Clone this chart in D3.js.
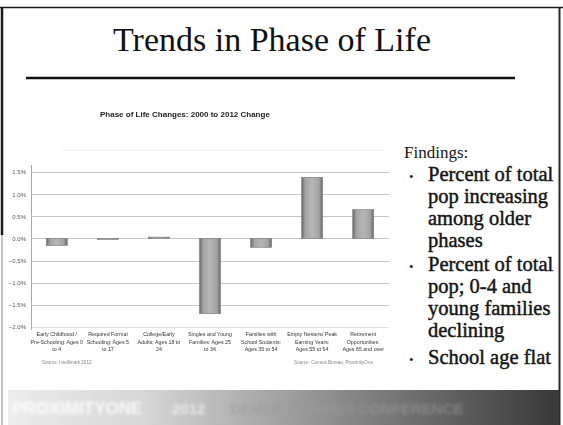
<!DOCTYPE html>
<html><head><meta charset="utf-8">
<script src="https://cdn.jsdelivr.net/npm/d3@7"></script>
<style>body{margin:0;background:#fff}svg{display:block}</style>
</head><body>
<script>
// ---------- data ----------
const categories = ["Early Childhood", "Required Formal Schooling", "College/Early Adults", "Singles and Young Families", "Families with School Students", "Empty Nesters/Peak Earning", "Retirement Opportunities"];
const categoryLabels = [
  ["Early Childhood /", "Pre-Schooling: Ages 0", "to 4"],
  ["Required Formal", "Schooling: Ages 5", "to 17"],
  ["College/Early", "Adults: Ages 18 to", "24"],
  ["Singles and Young", "Families: Ages 25", "to 34"],
  ["Families with", "School Students:", "Ages 35 to 54"],
  ["Empty Nesters/ Peak", "Earning Years:", "Ages 55 to 64"],
  ["Retirement", "Opportunities:", "Ages 65 and over"]
];
const values = [-0.16, 0.0, 0.03, -1.70, -0.20, 1.38, 0.65];
const yTicks = [1.5, 1.0, 0.5, 0.0, -0.5, -1.0, -1.5, -2.0];
const slideTitle = "Trends in Phase of Life";
const chartTitle = "Phase of Life Changes: 2000 to 2012 Change";
const findingsHead = "Findings:";
const findings = [
  ["Percent of total", "pop increasing", "among older", "phases"],
  ["Percent of total", "pop; 0-4 and", "young families", "declining"],
  ["School age flat"]
];

// ---------- drawing ----------
const W = 563, H = 425;
const svg = d3.select("body").append("svg").attr("width", W).attr("height", H);
const defs = svg.append("defs");

const bg = defs.append("linearGradient").attr("id", "barg").attr("x1", "0").attr("x2", "1").attr("y1", "0").attr("y2", "0");
[["0%", "#6a6a6a"], ["18%", "#a4a4a4"], ["50%", "#b6b6b6"], ["82%", "#a4a4a4"], ["100%", "#6a6a6a"]]
  .forEach(([o, c]) => bg.append("stop").attr("offset", o).attr("stop-color", c));

const fg = defs.append("linearGradient").attr("id", "footg").attr("x1", "0").attr("x2", "1").attr("y1", "0").attr("y2", "0");
[["0%", "#ececec"], ["25%", "#d6d6d6"], ["45%", "#ababab"], ["70%", "#767676"], ["100%", "#383838"]]
  .forEach(([o, c]) => fg.append("stop").attr("offset", o).attr("stop-color", c));

defs.append("filter").attr("id", "blur").append("feGaussianBlur").attr("stdDeviation", 0.35);
defs.append("filter").attr("id", "blur2").append("feGaussianBlur").attr("stdDeviation", 1.4);

svg.append("rect").attr("width", W).attr("height", H).attr("fill", "#fff");

// slide frame
svg.append("line").attr("x1", 0).attr("x2", W).attr("y1", 7.5).attr("y2", 7.5).attr("stroke", "#1a1a1a").attr("stroke-width", 1.6);
svg.append("line").attr("x1", 2).attr("x2", 2).attr("y1", 7).attr("y2", 235).attr("stroke", "#1a1a1a").attr("stroke-width", 2.5);
svg.append("line").attr("x1", 2).attr("x2", 2).attr("y1", 235).attr("y2", H).attr("stroke", "#8a8a8a").attr("stroke-width", 1);
svg.append("line").attr("x1", 559.5).attr("x2", 559.5).attr("y1", 7).attr("y2", H).attr("stroke", "#2a2a2a").attr("stroke-width", 2);

// slide title & rule
svg.append("text").attr("x", 272).attr("y", 51).attr("text-anchor", "middle")
  .attr("font-family", "Liberation Serif, serif").attr("font-size", 34).attr("fill", "#111").text(slideTitle);
svg.append("line").attr("x1", 26).attr("x2", 515).attr("y1", 78).attr("y2", 78).attr("stroke", "#111").attr("stroke-width", 2.5);

// chart
const x = d3.scaleBand().domain(categories).range([31, 389]).paddingInner(0.59).paddingOuter(0.3);
const y = d3.scaleLinear().domain([-2, 1.5]).range([327, 172]);

svg.append("line").attr("x1", 62).attr("x2", 385).attr("y1", 150.5).attr("y2", 150.5).attr("stroke", "#f0f0f0");
svg.append("text").attr("x", 100).attr("y", 117).attr("font-family", "Liberation Sans, Arial, sans-serif")
  .attr("font-weight", "bold").attr("font-size", 8).attr("fill", "#222").attr("filter", "url(#blur)").text(chartTitle);

const grid = svg.append("g");
grid.selectAll("line").data(yTicks).join("line")
  .attr("x1", 31).attr("x2", 389).attr("y1", d => Math.round(y(d)) + 0.5).attr("y2", d => Math.round(y(d)) + 0.5)
  .attr("stroke", d => d === -2 ? "#e2e2e2" : "#c6c6c6").attr("stroke-width", 1);

const yAxis = svg.append("g").attr("transform", "translate(31,0)")
  .call(d3.axisLeft(y).tickValues(yTicks).tickSize(0).tickPadding(5).tickFormat(d => d3.format(".1f")(d) + "%"));
yAxis.select(".domain").attr("stroke", "#a8a8a8").attr("d", "M0.5,165V330");
yAxis.selectAll("text").attr("font-family", "Liberation Sans, Arial, sans-serif").attr("font-size", 6)
  .attr("fill", "#555").attr("filter", "url(#blur)");

svg.append("g").selectAll("rect").data(values).join("rect")
  .attr("x", (d, i) => x(categories[i])).attr("width", x.bandwidth())
  .attr("y", d => y(Math.max(0, d))).attr("height", d => Math.max(1, Math.abs(y(d) - y(0))))
  .attr("fill", "url(#barg)").attr("stroke", "#777").attr("stroke-width", 0.6);

const cl = svg.append("g").attr("font-family", "Liberation Sans, Arial, sans-serif").attr("font-size", 5.3)
  .attr("fill", "#333").attr("text-anchor", "middle").attr("filter", "url(#blur)");
categoryLabels.forEach((lines, i) => {
  const cx = x(categories[i]) + x.bandwidth() / 2;
  lines.forEach((t, j) => cl.append("text").attr("x", cx).attr("y", 336 + j * 7.5).text(t));
});

const fn = svg.append("g").attr("font-family", "Liberation Sans, Arial, sans-serif").attr("font-size", 4.6)
  .attr("fill", "#888").attr("filter", "url(#blur)");
fn.append("text").attr("x", 42).attr("y", 364).text("Source: Intellimark 2012");
fn.append("text").attr("x", 373).attr("y", 364).attr("text-anchor", "end").text("Source: Census Bureau, ProximityOne");

// findings
const ft = svg.append("g").attr("font-family", "Liberation Serif, serif").attr("fill", "#151515");
ft.append("text").attr("x", 404).attr("y", 158).attr("font-size", 17).text(findingsHead);
const lineTops = [181, 271, 364];
findings.forEach((lines, bi) => {
  const y0 = lineTops[bi];
  ft.append("text").attr("x", 409).attr("y", y0).attr("font-size", 13).text("•");
  lines.forEach((t, j) => {
    ft.append("text").attr("x", 428).attr("y", y0 + j * 22).attr("font-size", 20.5)
      .attr("stroke", "#151515").attr("stroke-width", 0.45).text(t);
  });
});

// footer band
svg.append("rect").attr("x", 8).attr("y", 390).attr("width", 551).attr("height", 35).attr("fill", "url(#footg)");
const ghost = svg.append("g").attr("filter", "url(#blur2)").attr("font-family", "Liberation Sans, Arial, sans-serif").attr("font-weight", "bold");
ghost.append("text").attr("x", 12).attr("y", 414).attr("font-size", 17).attr("fill", "#ffffff").attr("opacity", 0.85).text("PROXIMITYONE");
ghost.append("text").attr("x", 172).attr("y", 414).attr("font-size", 15).attr("fill", "#f4f4f4").attr("opacity", 0.75).text("2012");
ghost.append("text").attr("x", 230).attr("y", 414).attr("font-size", 15).attr("fill", "#9a9a9a").attr("opacity", 0.6).text("DEMOGRAPHICS CONFERENCE");
</script>
</body></html>
